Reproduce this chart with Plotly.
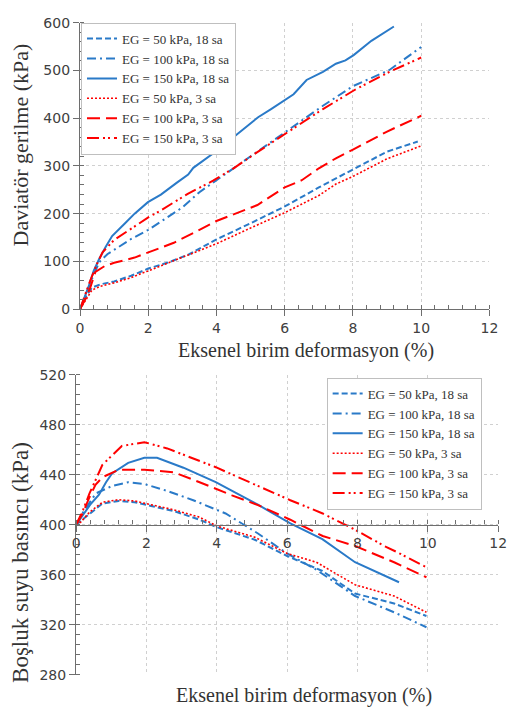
import plotly.graph_objects as go

# ---------------- data: deviator stress (top) ----------------
names = ["EG = 50 kPa, 18 sa", "EG = 100 kPa, 18 sa", "EG = 150 kPa, 18 sa",
         "EG = 50 kPa, 3 sa", "EG = 100 kPa, 3 sa", "EG = 150 kPa, 3 sa"]

q_x_50_18 = [0, 0.1, 0.2, 0.35, 0.6, 1.0, 1.5, 2.0, 2.6, 3.2, 4.0, 5.0, 6.0, 7.0, 8.0, 9.0, 9.9]
q_y_50_18 = [0, 15, 30, 45, 52, 58, 70, 85, 98, 115, 146, 180, 215, 255, 293, 330, 351]

q_x_100_18 = [0, 0.15, 0.3, 0.56, 0.8, 1.04, 1.5, 2.0, 2.5, 3.0, 3.5, 4.24, 5.22, 6.17, 7.12, 8.0, 8.6, 9.07, 10.0]
q_y_100_18 = [0, 25, 55, 98, 115, 126, 147, 166, 190, 213, 245, 282, 330, 378, 426, 467, 487, 501, 549]

q_x_150_18 = [0, 0.1, 0.27, 0.4, 0.56, 0.75, 0.94, 1.32, 1.6, 1.99, 2.37, 2.84, 3.17, 3.32, 3.98, 4.46,
              5.22, 5.6, 5.98, 6.26, 6.64, 7.12, 7.5, 7.78, 8.02, 8.54, 9.2]
q_y_150_18 = [0, 18, 51, 80, 105, 130, 153, 180, 200, 224, 240, 265, 282, 296, 330, 358,
              402, 419, 436, 450, 480, 497, 514, 521, 532, 562, 592]

q_x_50_3 = [0, 0.1, 0.2, 0.35, 0.6, 1.0, 1.5, 2.0, 3.0, 4.0, 5.0, 6.0, 7.0, 7.5, 8.0, 9.0, 10.0]
q_y_50_3 = [0, 12, 25, 40, 48, 55, 66, 80, 108, 137, 170, 202, 238, 262, 278, 315, 342]

q_x_100_3 = [0, 0.15, 0.3, 0.45, 0.74, 1.0, 1.6, 1.99, 2.75, 3.5, 3.98, 5.2, 6.0, 6.5, 7.0, 7.5, 8.0, 9.0, 10.0]
q_y_100_3 = [0, 20, 45, 78, 91, 97, 108, 119, 139, 166, 184, 218, 255, 270, 295, 316, 334, 372, 405]

q_x_150_3 = [0, 0.15, 0.3, 0.5, 0.66, 1.0, 1.6, 2.0, 2.37, 3.17, 3.9, 4.5, 5.22, 6.17, 7.12, 8.07, 9.07, 10.0]
q_y_150_3 = [0, 30, 60, 95, 119, 145, 173, 192, 207, 242, 269, 295, 330, 375, 419, 460, 497, 527]

# ---------------- data: pore water pressure (bottom) ----------------
u_x_50_18 = [0, 0.13, 0.38, 0.75, 1.21, 1.66, 2.13, 2.77, 3.51, 4.0, 5.08, 6.0, 7.0, 7.93, 9.04, 9.96]
u_y_50_18 = [400, 403, 409, 417, 419, 418, 415, 411, 404, 398, 388, 375, 363, 345, 337, 327]

u_x_100_18 = [0, 0.2, 0.56, 1.02, 1.48, 1.94, 2.59, 3.33, 4.25, 5.17, 6.0, 6.83, 7.93, 9.04, 9.96]
u_y_100_18 = [400, 410, 425, 431, 434, 432.6, 427, 419.6, 409, 393, 377, 364, 343, 330, 318]

u_x_150_18 = [0, 0.2, 0.4, 0.65, 0.85, 1.02, 1.48, 1.94, 2.3, 3.05, 3.97, 5.17, 6.09, 7.0, 7.93, 9.18]
u_y_150_18 = [400, 408, 416, 424, 434, 441, 449.5, 453.5, 453.5, 445.6, 434, 416, 401, 388.5, 370, 354]

u_x_50_3 = [0, 0.13, 0.38, 0.75, 1.21, 1.66, 2.13, 2.77, 3.51, 4.0, 5.08, 6.0, 6.83, 7.93, 9.04, 9.96]
u_y_50_3 = [400, 402, 410, 418, 420, 419, 416, 412, 406, 399, 390, 377, 370, 352, 343, 330]

u_x_100_3 = [0, 0.2, 0.38, 0.55, 0.75, 1.21, 1.94, 2.77, 3.51, 4.43, 5.17, 6.09, 7.01, 7.93, 9.04, 9.96]
u_y_100_3 = [400, 410, 422, 432, 438, 444, 444, 442, 434, 423.5, 415.7, 404, 391, 383, 370, 358]

u_x_150_3 = [0, 0.2, 0.38, 0.75, 1.3, 1.94, 2.59, 3.33, 3.97, 5.17, 6.09, 7.01, 7.93, 8.76, 9.13, 9.96]
u_y_150_3 = [400, 412, 425, 448, 463, 466, 461, 453, 446, 431, 419.6, 409, 396, 383, 378, 366]

x_ticks = [0, 2, 4, 6, 8, 10, 12]
q_ticks = [0, 100, 200, 300, 400, 500, 600]
u_ticks = [280, 320, 360, 400, 440, 480, 520]

# ---------------- styles ----------------
BLUE = "#2A7AC8"
RED = "#FF0000"
styles = [
    dict(color=BLUE, dash="6px,3px", width=2),
    dict(color=BLUE, dash="9px,4px,2px,4px", width=2),
    dict(color=BLUE, dash="solid", width=2),
    dict(color=RED, dash="2px,2px", width=1.6),
    dict(color=RED, dash="13px,6px", width=2),
    dict(color=RED, dash="12px,4px,2px,3px,2px,4px", width=2),
]

top_series = [(q_x_50_18, q_y_50_18), (q_x_100_18, q_y_100_18), (q_x_150_18, q_y_150_18),
              (q_x_50_3, q_y_50_3), (q_x_100_3, q_y_100_3), (q_x_150_3, q_y_150_3)]
bot_series = [(u_x_50_18, u_y_50_18), (u_x_100_18, u_y_100_18), (u_x_150_18, u_y_150_18),
              (u_x_50_3, u_y_50_3), (u_x_100_3, u_y_100_3), (u_x_150_3, u_y_150_3)]

fig = go.Figure()
for name, (xs, ys), st in zip(names, top_series, styles):
    fig.add_trace(go.Scatter(x=xs, y=ys, mode="lines", name=name, line=st,
                             xaxis="x", yaxis="y", legend="legend"))
for name, (xs, ys), st in zip(names, bot_series, styles):
    fig.add_trace(go.Scatter(x=xs, y=ys, mode="lines", name=name, line=st,
                             xaxis="x2", yaxis="y2", legend="legend2"))
# carrier for the crossing x-axis of the lower chart
fig.add_trace(go.Scatter(x=[], y=[], xaxis="x3", yaxis="y2", showlegend=False, hoverinfo="skip"))

W, H = 515, 718
TICKFONT = dict(family="DejaVu Sans", size=14, color="#404040")
SERIF = "Liberation Serif"
AXCOL = "#6e6e6e"
GRID = "#d0d0d0"


def px_x(a, b):
    return [a / W, b / W]


def px_y(top, bottom):
    return [(H - bottom) / H, (H - top) / H]


minor_x = dict(dtick=0.4, ticks="inside", ticklen=4, tickcolor=AXCOL, showgrid=False)
LEGFONT = dict(family=SERIF, size=13, color="#333333")

fig.update_layout(
    width=W, height=H, margin=dict(l=0, r=0, t=0, b=0),
    paper_bgcolor="white", plot_bgcolor="white",
    showlegend=True,
    xaxis=dict(domain=px_x(78, 498), range=[0, 12], tickvals=x_ticks, anchor="y",
               showline=True, linecolor=AXCOL, linewidth=1.3, ticks="outside", ticklen=6,
               tickcolor=AXCOL, showgrid=True, gridcolor=GRID, griddash="dot", zeroline=False,
               tickfont=TICKFONT, minor=minor_x),
    yaxis=dict(domain=px_y(15, 308), range=[0, 600], tickvals=q_ticks, anchor="x",
               showline=True, linecolor=AXCOL, linewidth=1.3, ticks="outside", ticklen=6,
               tickcolor=AXCOL, showgrid=True, gridcolor=GRID, griddash="dot", zeroline=False,
               tickfont=TICKFONT,
               minor=dict(dtick=20, ticks="inside", ticklen=4, tickcolor=AXCOL, showgrid=False)),
    xaxis2=dict(domain=px_x(74, 507), range=[0, 12], tickvals=x_ticks, anchor="y2",
                showline=False, ticks="", showticklabels=False,
                showgrid=True, gridcolor=GRID, griddash="dot", zeroline=False),
    xaxis3=dict(domain=px_x(74, 507), range=[0, 12], tickvals=x_ticks, overlaying="x2",
                anchor="free", position=(H - 528.3) / H,
                showline=True, linecolor=AXCOL, linewidth=1.3, ticks="outside", ticklen=6,
                tickcolor=AXCOL, showgrid=False, zeroline=False, tickfont=TICKFONT,
                minor=minor_x),
    yaxis2=dict(domain=px_y(375, 682), range=[280, 520], tickvals=u_ticks, anchor="x2",
                showline=True, linecolor=AXCOL, linewidth=1.3, ticks="outside", ticklen=6,
                tickcolor=AXCOL, showgrid=True, gridcolor=GRID, griddash="dot", zeroline=False,
                tickfont=TICKFONT,
                minor=dict(dtick=8, ticks="inside", ticklen=4, tickcolor=AXCOL, showgrid=False)),
    legend=dict(x=79 / W, y=(H - 15) / H, xanchor="left", yanchor="top",
                bgcolor="white", bordercolor="#bfbfbf", borderwidth=1,
                font=LEGFONT, tracegroupgap=0, itemwidth=30),
    legend2=dict(x=331 / W, y=(H - 378) / H, xanchor="left", yanchor="top",
                 bgcolor="white", bordercolor="#bfbfbf", borderwidth=1,
                 font=LEGFONT, tracegroupgap=0, itemwidth=30),
    annotations=[
        dict(text="Eksenel birim deformasyon (%)", x=310 / W, y=(H - 350) / H,
             xref="paper", yref="paper", showarrow=False, xanchor="center", yanchor="middle",
             font=dict(family=SERIF, size=20, color="#333333")),
        dict(text="Eksenel birim deformasyon (%)", x=308 / W, y=(H - 703) / H,
             xref="paper", yref="paper", showarrow=False, xanchor="center", yanchor="middle",
             font=dict(family=SERIF, size=20, color="#333333")),
        dict(text="Daviatör gerilme (kPa)", x=17 / W, y=(H - 140) / H, textangle=-90,
             xref="paper", yref="paper", showarrow=False, xanchor="center", yanchor="middle",
             font=dict(family=SERIF, size=22, color="#333333")),
        dict(text="Boşluk suyu basıncı (kPa)", x=17 / W, y=(H - 567) / H, textangle=-90,
             xref="paper", yref="paper", showarrow=False, xanchor="center", yanchor="middle",
             font=dict(family=SERIF, size=23, color="#333333")),
    ],
)

fig.write_html("out.html")
